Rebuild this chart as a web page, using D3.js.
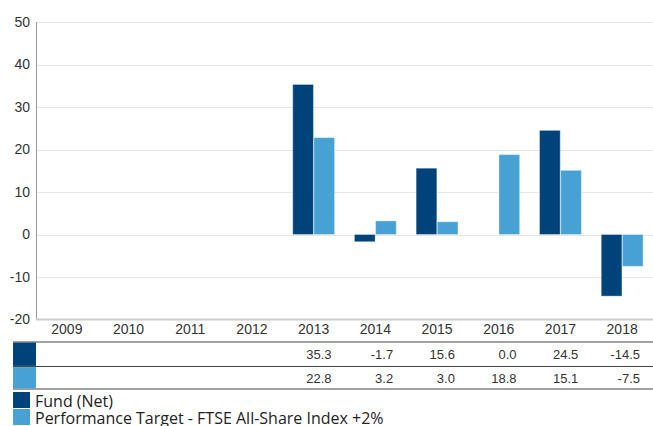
<!DOCTYPE html>
<html><head><meta charset="utf-8">
<script src="https://cdn.jsdelivr.net/npm/d3@7/dist/d3.min.js"></script>
<style>body{margin:0;background:#fff;} svg{display:block;}</style>
</head><body>
<svg id="c" width="653" height="426"></svg>
<script>
const years = ["2009","2010","2011","2012","2013","2014","2015","2016","2017","2018"];
const fundNet = [null,null,null,null,35.3,-1.7,15.6,0.0,24.5,-14.5];
const target = [null,null,null,null,22.8,3.2,3.0,18.8,15.1,-7.5];
const seriesNames = ["Fund (Net)","Performance Target - FTSE All-Share Index +2%"];
const yTicks = [-20,-10,0,10,20,30,40,50];
const colors = ["#00437a","#48a1d3"];

(function(){
const svg = d3.select("#c");
const mL = 36, mR = 653, mT = 22, mB = 319.5;
const x = d3.scaleBand().domain(years).range([mL,mR]);
const y = d3.scaleLinear().domain([-20,50]).range([mB,mT]);
const x1 = d3.scaleBand().domain([0,1]).range([0,x.bandwidth()]).paddingInner(0.02).paddingOuter(0.47);

// gridlines
svg.append("g").selectAll("line").data(yTicks.filter(d=>d!==-20)).join("line")
  .attr("x1",mL).attr("x2",mR).attr("y1",d=>Math.round(y(d))+0.5).attr("y2",d=>Math.round(y(d))+0.5)
  .attr("stroke","#e6e6e6").attr("stroke-width",1);

// y axis
const yAxis = svg.append("g").attr("transform",`translate(${mL},0)`)
  .call(d3.axisLeft(y).tickValues(yTicks).tickFormat(d=>String(d)).tickSize(0).tickPadding(6));
yAxis.select(".domain").attr("stroke","#999").attr("d",`M0.5,${mT}V${mB}`);
yAxis.selectAll("text").attr("font-family","Liberation Sans, Arial, sans-serif").attr("font-size",14).attr("fill","#333");

// bars
const data = [fundNet,target];
data.forEach((vals,si)=>{
  svg.append("g").selectAll("rect").data(years.map((yr,i)=>({yr,v:vals[i]})).filter(d=>d.v!==null && d.v!==0)).join("rect")
    .attr("x",d=>x(d.yr)+x1(si))
    .attr("width",x1.bandwidth())
    .attr("y",d=>y(Math.max(0,d.v)))
    .attr("height",d=>Math.abs(y(d.v)-y(0)))
    .attr("fill",colors[si])
    .attr("stroke","#ffffff").attr("stroke-opacity",0.35).attr("stroke-width",1);
});

// x axis
svg.append("line").attr("x1",mL).attr("x2",mR).attr("y1",mB).attr("y2",mB)
  .attr("stroke","#cccccc").attr("stroke-width",2);
const xAxis = svg.append("g").attr("transform",`translate(0,${mB})`)
  .call(d3.axisBottom(x).tickSize(0).tickPadding(5));
xAxis.select(".domain").remove();
xAxis.selectAll("text").attr("font-family","Liberation Sans, Arial, sans-serif").attr("font-size",14).attr("fill","#333");

// table
const tLeft = 13, rowTops = [342,366.5,389];
svg.selectAll(".tl").data(rowTops).join("line").attr("class","tl")
  .attr("x1",tLeft).attr("x2",mR).attr("y1",d=>d).attr("y2",d=>d)
  .attr("stroke","#444").attr("stroke-width",1.2);
data.forEach((vals,si)=>{
  const y0 = rowTops[si], y1r = rowTops[si+1];
  svg.append("rect").attr("x",tLeft).attr("y",y0+0.6).attr("width",mL-tLeft).attr("height",y1r-y0-1.2).attr("fill",colors[si]);
  svg.append("g").selectAll("text").data(years.map((yr,i)=>({yr,v:vals[i]})).filter(d=>d.v!==null)).join("text")
    .attr("x",d=>x(d.yr)+x.bandwidth()-13)
    .attr("y",(y0+y1r)/2+5)
    .attr("text-anchor","end")
    .attr("font-family","Liberation Sans, Arial, sans-serif").attr("font-size",13).attr("fill","#333")
    .text(d=>d.v.toFixed(1));
});

// legend
seriesNames.forEach((n,i)=>{
  const ly = 392 + i*17;
  svg.append("rect").attr("x",13).attr("y",ly).attr("width",17).attr("height",16).attr("fill",colors[i]);
  svg.append("text").attr("x",35).attr("y",ly+14.5).attr("font-family","Open Sans, sans-serif")
    .attr("font-size",16).attr("fill","#222").text(n);
});
})();
</script>
</body></html>
